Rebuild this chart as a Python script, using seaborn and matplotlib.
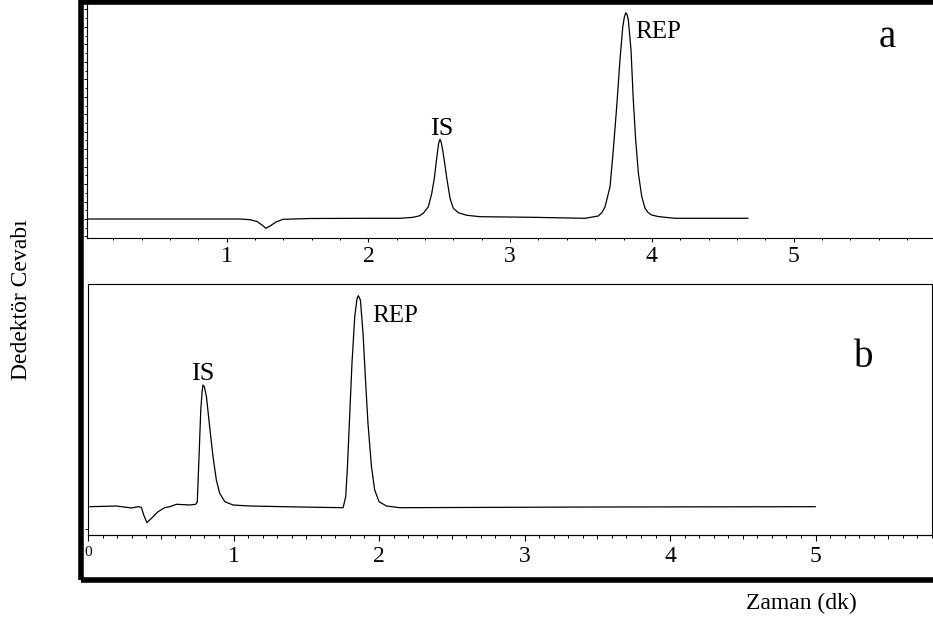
import numpy as np
import pandas as pd
import matplotlib
matplotlib.use("Agg")
import matplotlib.pyplot as plt
from matplotlib.patches import Rectangle
from matplotlib.ticker import MultipleLocator, FixedLocator, NullFormatter
import seaborn as sns

# ---------------- data ----------------
time_a = [0.014, 0.812, 1.094, 1.164, 1.214, 1.249, 1.277, 1.306, 1.348, 1.397,
          1.588, 2.011, 2.223, 2.317, 2.360, 2.387, 2.423, 2.447, 2.465, 2.486,
          2.496, 2.505, 2.514, 2.524, 2.540, 2.553, 2.576, 2.599, 2.634, 2.694,
          2.788, 3.162, 3.529, 3.622, 3.648, 3.670, 3.705, 3.728, 3.752, 3.775,
          3.795, 3.806, 3.816, 3.825, 3.834, 3.853, 3.869, 3.886, 3.905, 3.929,
          3.952, 3.973, 3.999, 4.043, 4.093, 4.164, 4.679]
signal_a = [0.0, 0.0, 0.0, -0.7, -2.5, -6.0, -9.3, -7.0, -3.0, -0.3,
            0.5, 0.7, 0.7, 1.7, 3.2, 5.7, 12.3, 25.7, 40.7, 65.7,
            76.0, 79.7, 76.5, 69.0, 54.0, 40.7, 20.7, 10.7, 6.3, 3.7,
            2.3, 1.7, 0.7, 3.0, 6.5, 12.3, 32.3, 69.0, 112.3, 159.0,
            192.3, 202.0, 206.3, 204.5, 199.0, 169.0, 119.0, 79.0, 45.7, 22.3,
            10.7, 6.5, 4.0, 2.5, 1.7, 0.7, 0.7]

time_b = [0.012, 0.195, 0.264, 0.298, 0.344, 0.367, 0.383, 0.405, 0.436, 0.481,
          0.527, 0.562, 0.608, 0.665, 0.699, 0.740, 0.751, 0.763, 0.775, 0.784,
          0.790, 0.800, 0.814, 0.836, 0.859, 0.882, 0.905, 0.940, 0.997, 1.111,
          1.455, 1.753, 1.771, 1.783, 1.799, 1.814, 1.833, 1.849, 1.858, 1.872,
          1.890, 1.907, 1.924, 1.948, 1.970, 2.000, 2.051, 2.142, 3.517, 4.999]
signal_b = [0.3, 1.0, -0.3, -1.0, 0.3, -0.3, -8.0, -15.7, -11.3, -4.7,
            -0.7, 0.3, 2.7, 2.3, 2.0, 2.7, 5.0, 50.3, 97.0, 115.0,
            122.0, 120.0, 110.3, 80.3, 50.3, 27.0, 13.7, 5.3, 2.0, 1.0,
            0.0, -0.7, 10.3, 40.3, 93.7, 143.7, 190.3, 208.7, 211.3, 207.0,
            173.7, 127.0, 83.7, 40.3, 17.0, 5.3, 1.0, -0.7, 0.0, 0.3]

xticks_a = [1, 2, 3, 4, 5]
xticks_b = [0, 1, 2, 3, 4, 5]
peak_names = ["IS", "REP"]
panel_names = ["a", "b"]
x_label = "Zaman (dk)"
y_label = "Dedektör Cevabı"

# ---------------- style ----------------
sns.set_theme(style="white")
plt.rcParams['font.family'] = ['Liberation Serif', 'DejaVu Serif']
plt.rcParams['axes.edgecolor'] = 'black'
plt.rcParams['axes.linewidth'] = 0.8
plt.rcParams['text.color'] = 'black'
plt.rcParams['axes.labelcolor'] = 'black'
plt.rcParams['xtick.color'] = 'black'
plt.rcParams['ytick.color'] = 'black'
plt.rcParams['xtick.labelcolor'] = 'black'
plt.rcParams['ytick.labelcolor'] = 'black'
plt.rcParams['xtick.direction'] = 'out'
plt.rcParams['ytick.direction'] = 'out'

W, H = 933, 623
fig = plt.figure(figsize=(W / 100, H / 100), dpi=100)
fig.patch.set_facecolor('white')

def px_box(x0, y0, x1, y1):
    return [x0 / W, 1 - y1 / H, (x1 - x0) / W, (y1 - y0) / H]

ax_a = fig.add_axes(px_box(86.7, 2, 933, 238))
ax_b = fig.add_axes(px_box(88, 284, 932, 535))

df_a = pd.DataFrame({"time": time_a, "signal": signal_a})
df_b = pd.DataFrame({"time": time_b, "signal": signal_b})

sns.lineplot(data=df_a, x="time", y="signal", ax=ax_a, color="black",
             linewidth=0.9, estimator=None, sort=False)
sns.lineplot(data=df_b, x="time", y="signal", ax=ax_b, color="black",
             linewidth=0.9, estimator=None, sort=False)

for ax in (ax_a, ax_b):
    ax.set_xlabel("")
    ax.set_ylabel("")
    ax.set_facecolor('white')
    ax.grid(False)

# ----- panel a -----
ax_a.set_xlim(0.012, 5.984)
ax_a.set_ylim(-19, 217)
ax_a.spines['top'].set_visible(False)
ax_a.spines['right'].set_visible(False)
ax_a.set_xticks(xticks_a)
ax_a.set_xticklabels([str(v) for v in xticks_a])
ax_a.xaxis.set_minor_locator(MultipleLocator(0.2))
ax_a.tick_params(axis='x', which='major', bottom=True, length=3.0, width=0.8,
                 labelsize=17, pad=2.8, labelcolor='black')
ax_a.tick_params(axis='x', which='minor', bottom=True, length=1.6, width=0.7)
step = 17.46
ax_a.yaxis.set_major_locator(FixedLocator(np.arange(-step, 217, step)))
ax_a.yaxis.set_minor_locator(FixedLocator(np.arange(-step / 2, 217, step)))
ax_a.yaxis.set_major_formatter(NullFormatter())
ax_a.tick_params(axis='y', which='major', left=True, length=2.4, width=0.7)
ax_a.tick_params(axis='y', which='minor', left=True, length=1.2, width=0.7)

ax_a.text(2.52, 84, peak_names[0], fontsize=19, ha='center', va='baseline', color='black')
ax_a.text(3.88, 180.7, peak_names[1], fontsize=18, ha='left', va='baseline', color='black')
ax_a.text(5.66, 172, panel_names[0], fontsize=28, ha='center', va='baseline', color='black')

# ----- panel b -----
ax_b.set_xlim(0, 5.8)
ax_b.set_ylim(-28, 223)
ax_b.set_xticks(xticks_b)
ax_b.set_xticklabels([str(v) for v in xticks_b])
ax_b.xaxis.set_minor_locator(MultipleLocator(0.1))
ax_b.tick_params(axis='x', which='major', bottom=True, length=4.3, width=0.8,
                 labelsize=17, pad=3.8, labelcolor='black')
ax_b.tick_params(axis='x', which='minor', bottom=True, length=2.0, width=0.7)
lab0 = ax_b.get_xticklabels()[0]
lab0.set_fontsize(11)
sec = ax_b.secondary_xaxis('bottom')
sec.set_xticks([0.5, 1.5, 2.5, 3.5, 4.5, 5.5])
sec.xaxis.set_major_formatter(NullFormatter())
sec.tick_params(axis='x', length=3.2, width=0.7, color='black')
sec.spines['bottom'].set_linewidth(0.8)
ax_b.set_yticks([-22.3])
ax_b.set_yticklabels([""])
ax_b.tick_params(axis='y', left=True, length=2.0, width=0.7)

ax_b.text(0.788, 127, peak_names[0], fontsize=19, ha='center', va='baseline', color='black')
ax_b.text(1.955, 185.3, peak_names[1], fontsize=18, ha='left', va='baseline', color='black')
ax_b.text(5.331, 139.7, panel_names[1], fontsize=28, ha='center', va='baseline', color='black')

# ----- outer thick frame and axis titles -----
frame = Rectangle((81 / W, 1 - 580 / H), 1.0, (580 - 2) / H,
                  transform=fig.transFigure, fill=False, lw=4.0,
                  ec='black', zorder=10, clip_on=False)
fig.add_artist(frame)

fig.text(801.7 / W, 1 - 603 / H, x_label, fontsize=17, ha='center', va='center',
         color='black')
fig.text(22 / W, 1 - 300 / H, y_label, fontsize=17, ha='center', va='center',
         rotation=90, color='black')

fig.savefig("out.png", dpi=100, facecolor='white')
